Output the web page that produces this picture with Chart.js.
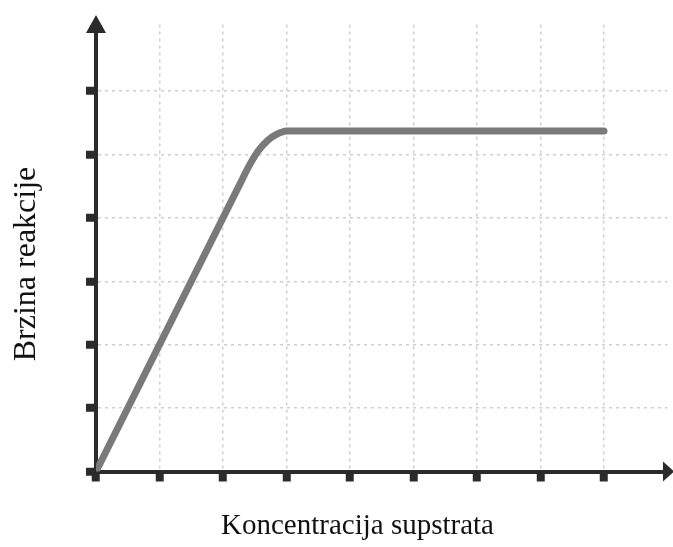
<!DOCTYPE html>
<html>
<head>
<meta charset="utf-8">
<script src="https://cdn.jsdelivr.net/npm/chart.js@4"></script>
<style>
  html,body{margin:0;padding:0;background:#fff;}
  #wrap{width:673px;height:547px;}
</style>
</head>
<body>
<div id="wrap"><canvas id="c" width="673" height="547"></canvas></div>
<script>
// --- Podaci ---
const koncentracija = [0, 2.25, 2.4, 2.55, 2.7, 2.85, 3.0, 8.0];
const brzina = [0, 4.5, 4.8, 5.05, 5.22, 5.32, 5.37, 5.37];
const xNaslov = 'Koncentracija supstrata';
const yNaslov = 'Brzina reakcije';
const xMax = 9, yMax = 7.05;

const osBoja = '#2b2b2b';
const mrezaBoja = '#cfcfcf';

// grid line only on inner ticks, tick mark on every whole tick
const gridColor = lim => ctx => (ctx.tick && ctx.tick.value > 0 && ctx.tick.value < lim) ? mrezaBoja : 'rgba(0,0,0,0)';
const tickColor = lim => ctx => (ctx.tick && ctx.tick.value < lim) ? osBoja : 'rgba(0,0,0,0)';

// --- Strelice i naslovi osi ---
const extras = {
  id: 'extras',
  afterDraw(chart){
    const {ctx, chartArea: a} = chart;
    ctx.save();
    ctx.fillStyle = osBoja;
    // strelica gore
    ctx.beginPath();
    ctx.moveTo(a.left, 15);
    ctx.lineTo(a.left - 10, 33);
    ctx.lineTo(a.left + 10, 33);
    ctx.closePath(); ctx.fill();
    // strelica desno
    ctx.beginPath();
    ctx.moveTo(674, a.bottom);
    ctx.lineTo(663, a.bottom - 10);
    ctx.lineTo(663, a.bottom + 10);
    ctx.closePath(); ctx.fill();

    ctx.fillStyle = '#111';
    ctx.textAlign = 'center';
    ctx.textBaseline = 'alphabetic';
    ctx.font = '29px "Liberation Serif"';
    ctx.fillText(xNaslov, 357.5, 534);
    ctx.translate(35, 264);
    ctx.rotate(-Math.PI/2);
    ctx.font = '32px "Liberation Serif"';
    ctx.fillText(yNaslov, 0, 0);
    ctx.restore();
  }
};

new Chart(document.getElementById('c'), {
  type: 'line',
  data: {
    datasets: [{
      data: koncentracija.map((x, i) => ({x, y: brzina[i]})),
      borderColor: '#7a7a7a',
      borderWidth: 7,
      borderCapStyle: 'round',
      borderJoinStyle: 'round',
      cubicInterpolationMode: 'monotone',
      pointRadius: 0,
      fill: false
    }]
  },
  options: {
    responsive: false,
    animation: false,
    layout: { padding: { top: 24.5, right: 5.5, left: 0, bottom: 0 } },
    plugins: { legend: { display: false }, tooltip: { enabled: false } },
    scales: {
      x: {
        type: 'linear', min: 0, max: xMax,
        ticks: { stepSize: 1, display: false },
        grid: { color: gridColor(xMax - 0.5), lineWidth: 1.5, tickColor: tickColor(xMax - 0.5), tickWidth: 8, tickLength: 10, tickBorderDash: [] },
        border: { color: osBoja, width: 4, dash: [3, 4] },
        afterFit: s => { s.height = 75.5; }
      },
      y: {
        type: 'linear', min: 0, max: yMax,
        ticks: { stepSize: 1, display: false },
        grid: { color: gridColor(6.5), lineWidth: 1.5, tickColor: tickColor(6.5), tickWidth: 8, tickLength: 10, tickBorderDash: [] },
        border: { color: osBoja, width: 4, dash: [3, 4] },
        afterFit: s => { s.width = 96; }
      }
    }
  },
  plugins: [extras]
});
</script>
</body>
</html>
